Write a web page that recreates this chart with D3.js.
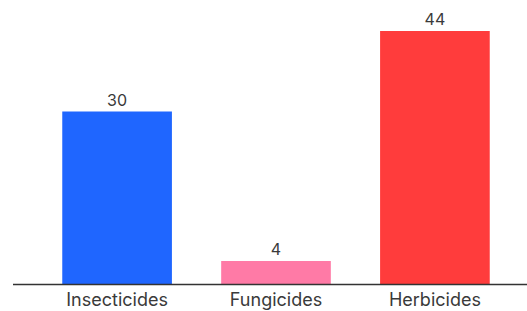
<!DOCTYPE html>
<html>
<head>
<meta charset="utf-8">
<script src="https://cdn.jsdelivr.net/npm/d3@7"></script>
<style>
  body { margin: 0; background: #fff; }
  text { font-family: "Inter", "Noto Sans", sans-serif; }
</style>
</head>
<body>
<div id="wrapper"></div>
<script>
const categories = ["Insecticides", "Fungicides", "Herbicides"];
const values = [30, 4, 44];
const colors = ["#1f66ff", "#ff7aa6", "#ff3c3c"];

const width = 527;
const height = 311;
const dims = { left: 13, baseline: 284, top: 31 };

const svg = d3.select("#wrapper")
  .append("svg")
  .attr("width", width)
  .attr("height", height);

const xScale = d3.scaleBand()
  .domain(categories)
  .range([dims.left, 539])
  .paddingInner(0.31)
  .paddingOuter(0.31);

const yScale = d3.scaleLinear()
  .domain([0, 44])
  .range([dims.baseline, dims.top]);

// palkit
svg.selectAll("rect.bar")
  .data(values)
  .join("rect")
  .attr("class", "bar")
  .attr("x", (d, i) => xScale(categories[i]))
  .attr("width", xScale.bandwidth())
  .attr("y", d => yScale(d))
  .attr("height", d => yScale(0) - yScale(d))
  .attr("fill", (d, i) => colors[i]);

// arvot
svg.selectAll("text.value")
  .data(values)
  .join("text")
  .attr("class", "value")
  .attr("x", (d, i) => xScale(categories[i]) + xScale.bandwidth() / 2)
  .attr("y", d => yScale(d) - 6)
  .attr("text-anchor", "middle")
  .attr("fill", "#3a3a3a")
  .style("font-size", "16px")
  .text(d => d);

// x-akseli
const xAxis = svg.append("g")
  .attr("transform", `translate(0, ${dims.baseline})`)
  .call(d3.axisBottom(xScale).tickSize(0).tickPadding(9));
xAxis.select(".domain").remove();
xAxis.selectAll("text")
  .attr("fill", "#3a3a3a")
  .style("font-size", "18px")
  .style("font-family", "Inter, 'Noto Sans', sans-serif");

svg.append("line")
  .attr("x1", dims.left)
  .attr("x2", width)
  .attr("y1", dims.baseline + 0.5)
  .attr("y2", dims.baseline + 0.5)
  .attr("stroke", "#333")
  .attr("stroke-width", 1.5);
</script>
</body>
</html>
